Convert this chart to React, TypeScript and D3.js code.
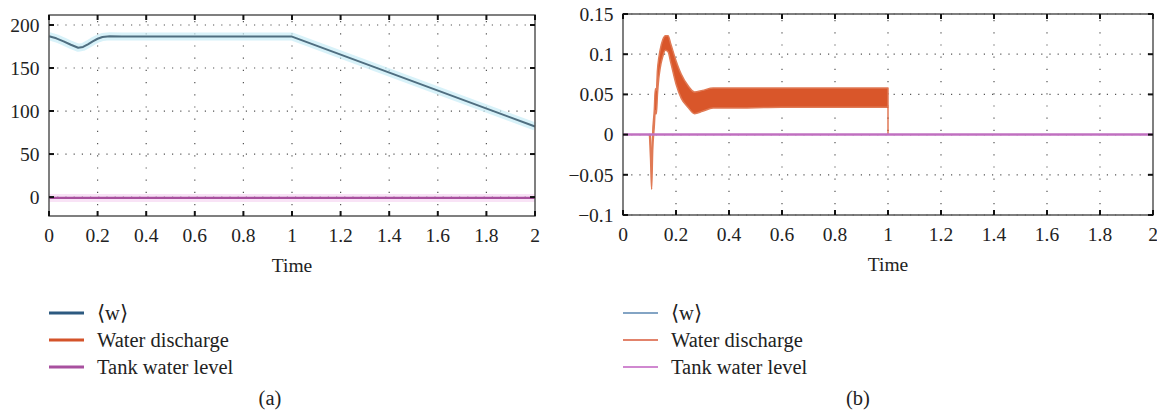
import React from "react";
import * as d3 from "d3";

// panel (a)
const wTimeA = [0, 0.03, 0.06, 0.09, 0.12, 0.14, 0.16, 0.18, 0.2, 0.22, 0.25, 0.3, 1, 2];
const wValA = [187, 184.5, 181, 177, 173.5, 174.5, 177.5, 181, 184, 186, 187, 186.5, 186.5, 82];
const levelTimeA = [0, 2];
const levelValA = [-1, -1];

// panel (b) — discharge drawn as envelope of a fast oscillation
const dischTime = [0.1, 0.104, 0.108, 0.112, 0.118, 0.122, 0.126, 0.13, 0.135, 0.14, 0.15, 0.16, 0.17, 0.18, 0.2, 0.22, 0.245, 0.27, 0.3, 0.34, 0.4, 0.6, 0.8, 1];
const dischLow = [0, -0.03, -0.068, -0.02, 0.01, 0.03, 0.026, 0.05, 0.07, 0.082, 0.097, 0.105, 0.103, 0.09, 0.063, 0.045, 0.034, 0.026, 0.029, 0.033, 0.033, 0.034, 0.034, 0.034];
const dischHigh = [0, 0, -0.06, 0, 0.03, 0.057, 0.055, 0.08, 0.095, 0.105, 0.118, 0.123, 0.123, 0.113, 0.092, 0.075, 0.061, 0.053, 0.055, 0.058, 0.058, 0.058, 0.058, 0.058];
const levelTimeB = [0, 2];
const levelValB = [0, 0];

const xTicks = [0, 0.2, 0.4, 0.6, 0.8, 1, 1.2, 1.4, 1.6, 1.8, 2];
const yTicksA = [0, 50, 100, 150, 200];
const yTicksB = [-0.1, -0.05, 0, 0.05, 0.1, 0.15];
const legendLabels = ["\u27E8w\u27E9", "Water discharge", "Tank water level"];

const FONT = "'Liberation Serif', 'Times New Roman', serif";
const TICK_FS = 19.5;
const LEG_FS = 20.5;
const fmt = (v: number) => (v < 0 ? "\u2212" + String(-v) : String(v));

type PanelProps = {
  left: number; right: number; top: number; bottom: number;
  yDomain: [number, number]; yTicks: number[];
  children: (x: d3.ScaleLinear<number, number>, y: d3.ScaleLinear<number, number>) => React.ReactNode;
};

function Panel({ left, right, top, bottom, yDomain, yTicks, children }: PanelProps) {
  const x = d3.scaleLinear().domain([0, 2]).range([left, right]);
  const y = d3.scaleLinear().domain(yDomain).range([bottom, top]);
  const tk = 5;
  return (
    <g>
      <rect x={left} y={top} width={right - left} height={bottom - top} fill="#fff" />
      {yTicks.map(t => (
        <line key={"gy" + t} x1={left} x2={right} y1={y(t)} y2={y(t)} stroke="#555" strokeWidth={1.2} strokeDasharray="1.2 7" />
      ))}
      {xTicks.slice(1, -1).map(t => (
        <line key={"gx" + t} x1={x(t)} x2={x(t)} y1={top} y2={bottom} stroke="#555" strokeWidth={1.2} strokeDasharray="1.2 11" strokeDashoffset={-6} />
      ))}
      {children(x, y)}
      <rect x={left} y={top} width={right - left} height={bottom - top} fill="none" stroke="#555" strokeWidth={1.5} />
      {xTicks.map(t => (
        <g key={"tx" + t}>
          <line x1={x(t)} x2={x(t)} y1={bottom} y2={bottom - tk} stroke="#111" strokeWidth={2} />
          <line x1={x(t)} x2={x(t)} y1={top} y2={top + tk} stroke="#111" strokeWidth={2} />
          <text x={x(t)} y={bottom + 26} textAnchor="middle" fontSize={TICK_FS} fontFamily={FONT} fill="#222">{t}</text>
        </g>
      ))}
      {yTicks.map(t => (
        <g key={"ty" + t}>
          <line x1={left} x2={left + tk} y1={y(t)} y2={y(t)} stroke="#111" strokeWidth={2} />
          <line x1={right} x2={right - tk} y1={y(t)} y2={y(t)} stroke="#111" strokeWidth={2} />
          <text x={left - 9.5} y={y(t)} dy="0.35em" textAnchor="end" fontSize={TICK_FS} fontFamily={FONT} fill="#222">{fmt(t)}</text>
        </g>
      ))}
      <text x={(left + right) / 2} y={bottom + 56} textAnchor="middle" fontSize={TICK_FS} fontFamily={FONT} fill="#222">Time</text>
    </g>
  );
}

function Legend({ x0, y0, colors, width }: { x0: number; y0: number; colors: string[]; width: number }) {
  return (
    <g>
      {legendLabels.map((l, i) => (
        <g key={l}>
          <line x1={x0} x2={x0 + 35} y1={y0 + i * 27} y2={y0 + i * 27} stroke={colors[i]} strokeWidth={width} />
          <text x={x0 + 48} y={y0 + i * 27} dy="0.32em" fontSize={LEG_FS} fontFamily={FONT} fill="#222">{l}</text>
        </g>
      ))}
    </g>
  );
}

export default function App() {
  const lineA = (x: any, y: any, ts: number[], vs: number[]) =>
    d3.line<number>().x((_, i) => x(ts[i])).y(d => y(d))(vs) || "";

  return (
    <svg width={1157} height={415} style={{ position: "absolute", left: 0, top: 0, background: "#fff" }}>
      <Panel left={49} right={535} top={15} bottom={216} yDomain={[-22, 211.6]} yTicks={yTicksA}>
        {(x, y) => (
          <g>
            <path d={lineA(x, y, levelTimeA, levelValA)} fill="none" stroke="#f3c8ee" strokeWidth={8} opacity={0.5} />
            <path d={lineA(x, y, levelTimeA, levelValA)} fill="none" stroke="#a8509f" strokeWidth={2.2} />
            <path d={lineA(x, y, wTimeA, wValA)} fill="none" stroke="#c8ecf6" strokeWidth={8} opacity={0.7} strokeLinejoin="round" />
            <path d={lineA(x, y, wTimeA, wValA)} fill="none" stroke="#4f6e80" strokeWidth={2} strokeLinejoin="round" />
          </g>
        )}
      </Panel>
      <Panel left={623} right={1153} top={14} bottom={215} yDomain={[-0.1, 0.15]} yTicks={yTicksB}>
        {(x, y) => {
          const area = d3.area<number>()
            .x((_, i) => x(dischTime[i]))
            .y0((_, i) => y(dischLow[i]))
            .y1(d => y(d))
            .curve(d3.curveMonotoneX)(dischHigh) || "";
          const last = dischTime.length - 1;
          return (
            <g>
              <path d={area} fill="#d9562a" stroke="#e07a55" strokeWidth={1.5} strokeLinejoin="round" />
              <line x1={x(dischTime[last])} x2={x(dischTime[last])} y1={y(dischLow[last])} y2={y(0)} stroke="#d9562a" strokeWidth={1.2} />
              <path d={lineA(x, y, levelTimeB, levelValB)} fill="none" stroke="#c070c0" strokeWidth={2.5} />
            </g>
          );
        }}
      </Panel>
      <Legend x0={49} y0={313} colors={["#2d5a80", "#d4532a", "#a8509f"]} width={3} />
      <Legend x0={623} y0={313} colors={["#5a86b0", "#d85a3a", "#c060c0"]} width={1.5} />
      <text x={270} y={405} textAnchor="middle" fontSize={LEG_FS} fontFamily={FONT} fill="#222">(a)</text>
      <text x={858} y={405} textAnchor="middle" fontSize={LEG_FS} fontFamily={FONT} fill="#222">(b)</text>
    </svg>
  );
}
